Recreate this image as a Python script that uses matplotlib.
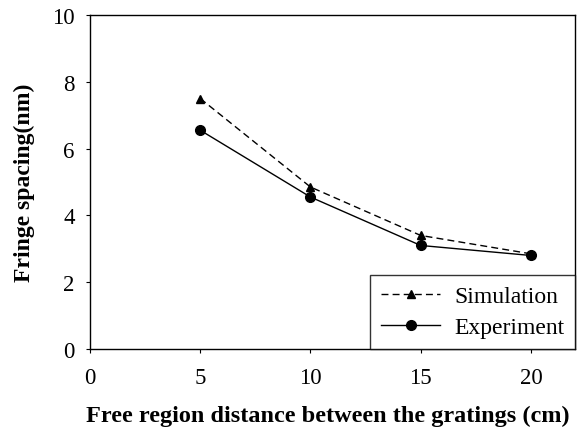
import matplotlib
matplotlib.use("Agg")
import matplotlib.pyplot as plt

x = [5, 10, 15, 20]
simulation = [7.5, 4.85, 3.4, 2.85]
experiment = [6.55, 4.55, 3.1, 2.8]
xticks = [0, 5, 10, 15, 20]
yticks = [0, 2, 4, 6, 8, 10]

plt.rcParams['font.family'] = ['Liberation Serif', 'DejaVu Serif']

fig = plt.figure(figsize=(5.79, 4.35), dpi=100)
ax = fig.add_axes([90/579, (435-350)/435, (575-90)/579, (350-16)/435])

ax.plot(x, simulation, color='black', linestyle=(0, (5, 3)), linewidth=1.0,
        marker='^', markersize=6, label='Simulation')
ax.plot(x, experiment, color='black', linestyle='-', linewidth=1.0,
        marker='o', markersize=7, label='Experiment')

ax.set_xlim(0, 22)
ax.set_ylim(0, 10)
ax.set_xticks(xticks)
ax.set_yticks(yticks)
ax.tick_params(direction='out', length=3, width=0.8, labelsize=16.5, colors='black')
ax.tick_params(axis='x', pad=10)
ax.tick_params(axis='y', pad=8)
for s in ax.spines.values():
    s.set_linewidth(1.0)
    s.set_color('black')

xl = ax.set_xlabel('Free region distance between the gratings (cm)', fontsize=17.5,
                   fontweight='bold', labelpad=12)
xl.set_x((328 - 90) / (575 - 90))
ax.set_ylabel('Fringe spacing(nm)', fontsize=17, fontweight='bold', labelpad=12)

leg = ax.legend(loc='lower right', fontsize=17, frameon=True, fancybox=False,
                edgecolor='black', borderaxespad=0, handlelength=2.5,
                handletextpad=0.6, borderpad=0.45, labelspacing=0.4)
leg.get_frame().set_linewidth(1.0)

fig.savefig('out.png', dpi=100)
